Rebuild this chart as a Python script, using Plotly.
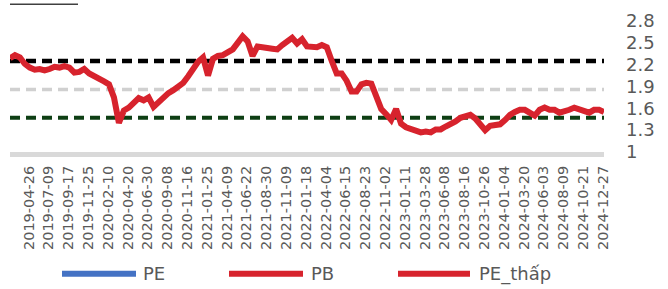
import plotly.graph_objects as go

# ---- data ----
tick_dates = ["2019-04-26", "2019-07-09", "2019-09-17", "2019-11-25", "2020-02-10",
              "2020-04-20", "2020-06-30", "2020-09-08", "2020-11-16", "2021-01-25",
              "2021-04-09", "2021-06-22", "2021-08-30", "2021-11-09", "2022-01-18",
              "2022-04-04", "2022-06-15", "2022-08-23", "2022-11-02", "2023-01-11",
              "2023-03-28", "2023-06-08", "2023-08-16", "2023-10-26", "2024-01-04",
              "2024-03-20", "2024-06-03", "2024-08-09", "2024-10-21", "2024-12-27"]
tick_rows = [38 + 40 * i for i in range(len(tick_dates))]   # trading-day row of each label

pb = [2.29, 2.33, 2.30, 2.21, 2.16, 2.13, 2.14, 2.12, 2.14, 2.17,
      2.16, 2.18, 2.16, 2.09, 2.10, 2.14, 2.08, 2.05, 2.02, 1.97,
      1.93, 1.75, 1.40, 1.57, 1.61, 1.67, 1.74, 1.71, 1.75, 1.62,
      1.69, 1.75, 1.81, 1.85, 1.90, 1.95, 2.04, 2.14, 2.24, 2.30,
      2.05, 2.28, 2.32, 2.33, 2.36, 2.41, 2.50, 2.59, 2.52, 2.32,
      2.45, 2.43, 2.43, 2.42, 2.41, 2.47, 2.52, 2.57, 2.49, 2.55, 2.45,
      2.45, 2.44, 2.47, 2.44, 2.25, 2.08, 2.08, 1.98, 1.83, 1.83,
      1.93, 1.95, 1.94, 1.74, 1.59, 1.52, 1.44, 1.59, 1.39, 1.34,
      1.31, 1.28, 1.27, 1.28, 1.27, 1.31, 1.31, 1.35, 1.38, 1.42,
      1.47, 1.48, 1.51, 1.46, 1.38, 1.30, 1.36, 1.38, 1.38, 1.44,
      1.51, 1.55, 1.58, 1.58, 1.54, 1.50, 1.58, 1.61, 1.58, 1.58,
      1.54, 1.55, 1.58, 1.61, 1.58, 1.55, 1.54, 1.58, 1.58, 1.55]
rows = [10 * i for i in range(len(pb))]

pb_upper = 2.25   # mean + 1 std
pb_mean = 1.86
pb_lower = 1.47   # mean - 1 std

y_ticks = [1, 1.3, 1.6, 1.9, 2.2, 2.5, 2.8]
y_ticktext = ["1", "1.3", "1.6", "1.9", "2.2", "2.5", "2.8"]

RED = "#D7232D"
BLUE = "#4472C4"
FONT = "DejaVu Sans"
GRAY_TXT = "#595959"

fig = go.Figure()
x_span = [rows[0], rows[-1]]
fig.add_trace(go.Scatter(x=x_span, y=[pb_upper, pb_upper], mode="lines",
                         line=dict(color="#000000", width=4.5, dash="10px,6px"),
                         showlegend=False, hoverinfo="skip"))
fig.add_trace(go.Scatter(x=x_span, y=[pb_mean, pb_mean], mode="lines",
                         line=dict(color="#D0D0D0", width=3.5, dash="10px,6px"),
                         showlegend=False, hoverinfo="skip"))
fig.add_trace(go.Scatter(x=x_span, y=[pb_lower, pb_lower], mode="lines",
                         line=dict(color="#0E3F14", width=4, dash="10px,6px"),
                         showlegend=False, hoverinfo="skip"))
fig.add_trace(go.Scatter(x=rows, y=pb, mode="lines", name="PB",
                         line=dict(color=RED, width=6), showlegend=False))

# ---- manual legend (paper coords; plot area px 10..604 x 18..152) ----
TOP, BOT = 18, 152

def px_x(px):
    return (px - 10) / 594.0

def px_y(py):
    return (BOT - py) / float(BOT - TOP)

legend_items = [("PE", BLUE, 62, 136, 141), ("PB", RED, 229, 303, 309),
                ("PE_thấp", RED, 398, 470, 477)]
ly = 276.5
for name, col, x0, x1, tx in legend_items:
    fig.add_shape(type="line", xref="paper", yref="paper",
                  x0=px_x(x0), x1=px_x(x1), y0=px_y(ly), y1=px_y(ly),
                  line=dict(color=col, width=6))
    fig.add_annotation(x=px_x(tx), y=px_y(ly), xref="paper", yref="paper",
                       text=name, showarrow=False, xanchor="left", yanchor="middle",
                       font=dict(family=FONT, size=18, color=GRAY_TXT))

# top-left cut line
fig.add_shape(type="line", xref="paper", yref="paper",
              x0=px_x(10), x1=px_x(78), y0=px_y(0.8), y1=px_y(0.8),
              line=dict(color="#404040", width=1.6))

fig.update_layout(
    width=668, height=289,
    margin=dict(l=10, r=64, t=TOP, b=289 - BOT),
    paper_bgcolor="white", plot_bgcolor="white",
    showlegend=False,
    font=dict(family=FONT, color=GRAY_TXT),
    xaxis=dict(range=[0, 1200], tickvals=tick_rows, ticktext=tick_dates,
               tickangle=-90, showgrid=False, zeroline=False,
               showline=True, linecolor="#D9D9D9", linewidth=5,
               ticks="", ticklabelstandoff=3,
               tickfont=dict(family=FONT, size=14.5, color=GRAY_TXT)),
    yaxis=dict(range=[1, 2.8], side="right", tickvals=y_ticks, ticktext=y_ticktext,
               showgrid=False, zeroline=False, showline=False, ticks="",
               ticklabelstandoff=21,
               tickfont=dict(family=FONT, size=18, color=GRAY_TXT)),
)

fig.write_html("out.html", config={"displayModeBar": False},
               post_script="document.body.style.margin='0';document.body.style.overflow='hidden';")
